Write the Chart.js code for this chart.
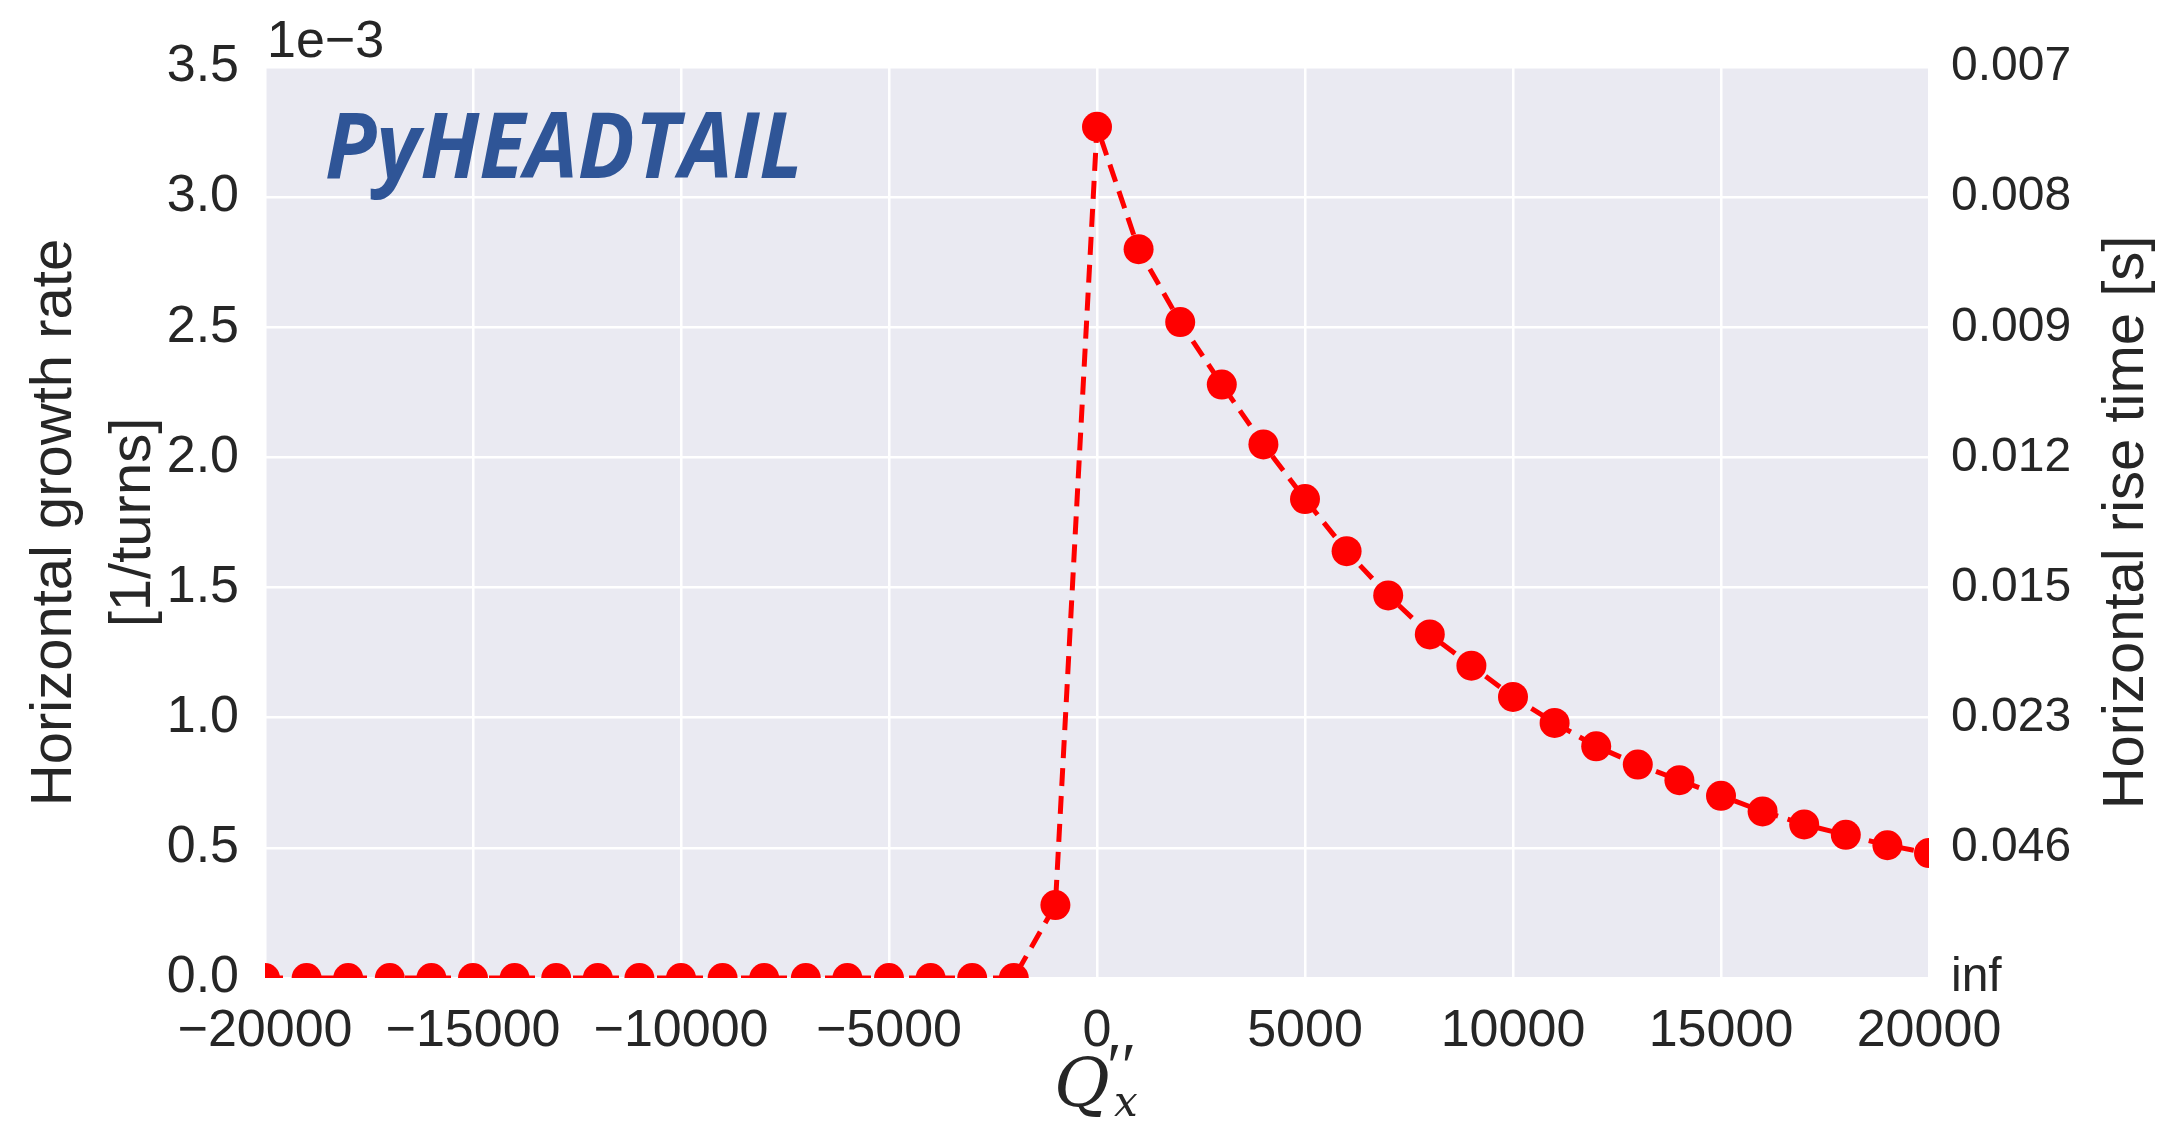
<!DOCTYPE html>
<html>
<head>
<meta charset="utf-8">
<script src="https://cdn.jsdelivr.net/npm/chart.js@4.4.1/dist/chart.umd.min.js"></script>
<style>
  html, body { margin: 0; padding: 0; background: #ffffff; }
  #growth { display: block; }
</style>
</head>
<body>
<canvas id="growth" width="2163" height="1125"></canvas>
<script>
// chromaticity Q''x
const chroma = [
    -20000, -19000, -18000, -17000, -16000, -15000, -14000, -13000, -12000, -11000,
    -10000, -9000, -8000, -7000, -6000, -5000, -4000, -3000, -2000, -1000,
    0, 1000, 2000, 3000, 4000, 5000, 6000, 7000, 8000, 9000,
    10000, 11000, 12000, 13000, 14000, 15000, 16000, 17000, 18000, 19000, 20000
];
// growth rate, units of 1e-3 per turn
const growthRate = [
    0, 0, 0, 0, 0, 0, 0, 0, 0, 0,
    0, 0, 0, 0, 0, 0, 0, 0, 0, 0.28,
    3.27, 2.80, 2.52, 2.28, 2.05, 1.84, 1.64, 1.47, 1.32, 1.20,
    1.08, 0.98, 0.89, 0.82, 0.76, 0.70, 0.64, 0.59, 0.55, 0.51, 0.48
];
// right axis labels (rise time in s), one per left tick 0.0 .. 3.5
const riseTimeLabels = ['inf', '0.046', '0.023', '0.015', '0.012', '0.009', '0.008', '0.007'];

const textColor = '#262626';
const tickFont = { family: 'Liberation Sans', size: 52 };

const points = chroma.map((q, i) => ({ x: q, y: growthRate[i] }));

// plot background, axis titles, offset text, logo text
const decorations = {
    id: 'decorations',
    beforeDraw(chart) {
        const { ctx, chartArea: a } = chart;
        ctx.save();
        ctx.fillStyle = '#eaeaf2';
        ctx.fillRect(a.left, a.top, a.right - a.left, a.bottom - a.top);
        ctx.restore();
    },
    afterDraw(chart) {
        const { ctx, chartArea: a } = chart;
        const midY = (a.top + a.bottom) / 2;
        ctx.save();
        ctx.fillStyle = textColor;

        // left title, two lines
        ctx.font = '58px "Liberation Sans"';
        ctx.textAlign = 'center';
        ctx.textBaseline = 'middle';
        ctx.save();
        ctx.translate(55, midY);
        ctx.rotate(-Math.PI / 2);
        ctx.fillText('Horizontal growth rate', 0, 0);
        ctx.restore();
        ctx.save();
        ctx.translate(134, midY);
        ctx.rotate(-Math.PI / 2);
        ctx.fillText('[1/turns]', 0, 0);
        ctx.restore();

        // right title
        ctx.save();
        ctx.translate(2127, midY);
        ctx.rotate(-Math.PI / 2);
        ctx.fillText('Horizontal rise time [s]', 0, 0);
        ctx.restore();

        // offset text
        ctx.font = '52px "Liberation Sans"';
        ctx.textAlign = 'left';
        ctx.textBaseline = 'alphabetic';
        ctx.fillText('1e\u22123', a.left + 2, a.top - 10);

        // x title Q''_x
        ctx.font = 'italic 68px "DejaVu Serif"';
        ctx.fillText('Q', 1054, 1106);
        ctx.font = 'italic 66px "Liberation Serif"';
        ctx.fillText('\u2032\u2032', 1103, 1088);
        ctx.font = 'italic 42px "DejaVu Serif"';
        ctx.fillText('x', 1114, 1116);

        // PyHEADTAIL
        ctx.fillStyle = '#2f5597';
        ctx.font = 'italic bold 92px "Open Sans"';
        const w = ctx.measureText('PyHEADTAIL').width;
        ctx.save();
        ctx.translate(a.left + 60, a.top + 111);
        ctx.scale(478 / w, 1);
        ctx.fillText('PyHEADTAIL', 0, 0);
        ctx.restore();

        ctx.restore();
    }
};

const config = {
    type: 'line',
    data: {
        datasets: [{
            label: 'growth rate',
            data: points,
            borderColor: '#ff0000',
            backgroundColor: '#ff0000',
            borderWidth: 5,
            borderDash: [18, 10],
            pointRadius: 15,
            pointBorderWidth: 0,
            pointBackgroundColor: '#ff0000',
            tension: 0,
            clip: 0,
            yAxisID: 'y'
        }]
    },
    options: {
        responsive: false,
        animation: false,
        events: [],
        layout: { padding: { top: 67, left: 0, right: 0, bottom: 0 } },
        plugins: {
            legend: { display: false },
            tooltip: { enabled: false }
        },
        scales: {
            x: {
                type: 'linear',
                min: -20000,
                max: 20000,
                border: { display: false },
                grid: { color: '#ffffff', lineWidth: 2.5, drawTicks: false },
                ticks: {
                    stepSize: 5000,
                    color: textColor,
                    font: tickFont,
                    padding: 22,
                    maxRotation: 0,
                    callback: (v) => (v < 0 ? '\u2212' + Math.abs(v) : String(v))
                },
                afterFit: (s) => { s.height = 147; }
            },
            y: {
                position: 'left',
                min: 0,
                max: 3.5,
                border: { display: false },
                grid: { color: '#ffffff', lineWidth: 2.5, drawTicks: false },
                ticks: {
                    stepSize: 0.5,
                    color: textColor,
                    font: tickFont,
                    padding: 26,
                    callback: (v) => v.toFixed(1)
                },
                afterFit: (s) => { s.width = 265; }
            },
            y2: {
                position: 'right',
                min: 0,
                max: 3.5,
                border: { display: false },
                grid: { display: false, drawTicks: false },
                ticks: {
                    stepSize: 0.5,
                    color: textColor,
                    font: { family: 'Liberation Sans', size: 48 },
                    padding: 22,
                    callback: (v, i) => riseTimeLabels[i]
                },
                afterFit: (s) => { s.width = 234; }
            }
        }
    },
    plugins: [decorations]
};

const canvas = document.getElementById('growth');
const chart = new Chart(canvas, config);
</script>
</body>
</html>
